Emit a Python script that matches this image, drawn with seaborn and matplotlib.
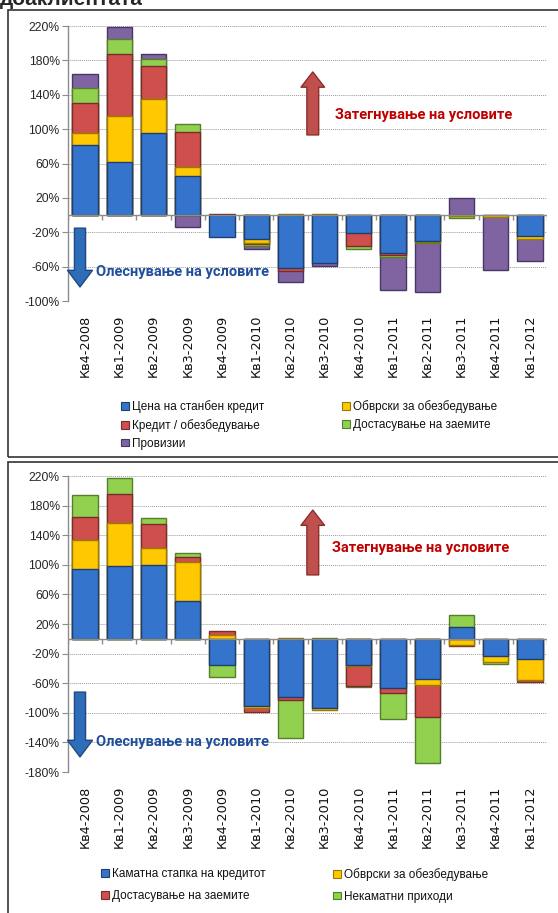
import numpy as np
import pandas as pd
import seaborn as sns
import matplotlib.pyplot as plt
from matplotlib.patches import Patch, Rectangle

# quarters on the x axis (same for both charts)
quarters = ['Кв4-2008', 'Кв1-2009', 'Кв2-2009', 'Кв3-2009', 'Кв4-2009', 'Кв1-2010', 'Кв2-2010',
            'Кв3-2010', 'Кв4-2010', 'Кв1-2011', 'Кв2-2011', 'Кв3-2011', 'Кв4-2011', 'Кв1-2012']

# top chart - housing loans
housing_labels = ['Цена на станбен кредит', 'Обврски за обезбедување', 'Кредит / обезбедување',
                  'Достасување на заемите', 'Провизии']
housing_price = [81, 62, 96, 45, -25, -28, -61, -56, -21, -44, -30, 0, 0, -24]
housing_collateral = [15, 53, 39, 11, 0, -4, 1, 1, 0, 0, -1, -1, -2, -4]
housing_ltv = [34, 72, 38, 41, 1, -2, -4, 0, -15, -2, 0, 0, 0, 0]
housing_maturity = [18, 18, 9, 9, 0, -2, 0, 0, -3, -3, -1, -2, 0, 0]
housing_fees = [16, 14, 5, -14, 0, -3, -13, -3, 0, -38, -58, 20, -62, -25]
housing_ticks = [220, 180, 140, 100, 60, 20, -20, -60, -100]

# bottom chart - consumer loans
consumer_labels = ['Каматна стапка на кредитот', 'Обврски за обезбедување', 'Достасување на заемите',
                   'Некаматни приходи']
consumer_rate = [94, 98, 100, 51, -36, -91, -79, -93, -35, -67, -54, 16, -23, -27]
consumer_collateral = [39, 58, 23, 53, 5, -3, 1, -3, -2, 0, -9, -8, -8, -29]
consumer_maturity = [32, 40, 32, 6, 6, -5, -3, 0, -27, -6, -42, -2, 0, -3]
consumer_nonint = [30, 21, 8, 6, -16, 0, -52, 1, -1, -36, -63, 16, -3, 0]
consumer_ticks = [220, 180, 140, 100, 60, 20, -20, -60, -100, -140, -180]

blue, yellow, red, green, purple = '#3574CD', '#FFC800', '#CF4F4C', '#92D050', '#8064A2'
blue_e, yellow_e, red_e, green_e, purple_e = '#1E3F6E', '#9C7A00', '#7A2C2A', '#557F2A', '#463766'

sns.set_theme(style='white')
plt.rcParams['font.family'] = ['Liberation Sans', 'DejaVu Sans']
narrow = ['Roboto', 'Liberation Sans', 'DejaVu Sans']


def draw_stacked(ax, series, colors, edges):
    pos_cum = np.zeros(len(quarters))
    neg_cum = np.zeros(len(quarters))
    layers = []
    for vals, col, edge in zip(series, colors, edges):
        v = np.array(vals, dtype=float)
        pos_cum = pos_cum + np.clip(v, 0, None)
        neg_cum = neg_cum + np.clip(v, None, 0)
        layers.append((np.where(v > 0, pos_cum, np.nan), np.where(v < 0, neg_cum, np.nan), col, edge))
    # draw from the outermost layer inwards so that the inner ones cover it
    for pos, neg, col, edge in reversed(layers):
        for y in (pos, neg):
            if np.all(np.isnan(y)):
                continue
            df = pd.DataFrame({'q': quarters, 'v': y}).dropna()
            sns.barplot(data=df, x='q', y='v', order=quarters, color=col, saturation=1,
                        width=0.74, errorbar=None, edgecolor=edge, linewidth=1.0, ax=ax)


def style_axes(ax, ticks):
    ax.set_ylim(ticks[-1], ticks[0])
    ax.set_xlim(-0.5, len(quarters) - 0.5)
    ax.set_yticks(ticks)
    ax.set_yticklabels([f'{t}%' for t in ticks], fontsize=8.7)
    for t in ticks:
        if t != 0:
            ax.axhline(t, color='#9A9A9A', lw=0.7, ls=(0, (1, 1)), zorder=0)
    ax.axhline(0, color='#8C8C8C', lw=1.0, zorder=3)
    tick_len = 0.018 * (ticks[0] - ticks[-1])
    ax.vlines(np.arange(len(quarters) + 1) - 0.5, 0, -tick_len, color='#8C8C8C', lw=1.0, zorder=3)
    ax.set_xticks(range(len(quarters)))
    ax.set_xticklabels(quarters, rotation=90, fontsize=9.3, family='DejaVu Sans', color='#111111')
    ax.tick_params(axis='x', length=0, pad=10)
    ax.tick_params(axis='y', length=4, width=0.8, color='#8C8C8C', direction='out', left=True, pad=2)
    for s in ['top', 'right', 'bottom']:
        ax.spines[s].set_visible(False)
    ax.spines['left'].set_color('#8C8C8C')
    ax.spines['left'].set_linewidth(1.0)
    ax.set_xlabel('')
    ax.set_ylabel('')
    ax.set_facecolor('white')


def annotate_directions(ax, red_arrow, red_text, blue_arrow, blue_text):
    ax.annotate('', xy=red_arrow[1], xytext=red_arrow[0], xycoords='axes fraction',
                arrowprops=dict(arrowstyle='simple,head_length=1.1,head_width=1.7,tail_width=0.85',
                                mutation_scale=10, fc='#C0504D', ec='#8C2D2A', lw=1,
                                shrinkA=0, shrinkB=0), zorder=5)
    ax.text(red_text[0], red_text[1], 'Затегнување на условите', transform=ax.transAxes,
            color='#C00000', fontsize=10.5, fontweight='bold', family=narrow, va='center', ha='left')
    ax.annotate('', xy=blue_arrow[1], xytext=blue_arrow[0], xycoords='axes fraction',
                arrowprops=dict(arrowstyle='simple,head_length=1.2,head_width=1.8,tail_width=0.8',
                                mutation_scale=10, fc='#2E6DB8', ec='#1F4A80', lw=1,
                                shrinkA=0, shrinkB=0), zorder=5)
    ax.text(blue_text[0], blue_text[1], 'Олеснување на условите', transform=ax.transAxes,
            color='#1F4E9A', fontsize=10.5, fontweight='bold', family=narrow, va='center', ha='left')


fig = plt.figure(figsize=(5.58, 9.13), dpi=100)
fig.patch.set_facecolor('white')

# panel frames
fig.add_artist(Rectangle((0.0143, 0.4995), 1.0, 0.4895, transform=fig.transFigure,
                         fill=False, ec='#333333', lw=1.2))
fig.add_artist(Rectangle((0.0143, -0.1), 1.0, 0.594, transform=fig.transFigure,
                         fill=False, ec='#333333', lw=1.2))

# heading above the panels (cut by the top edge, as in the source page)
fig.text(0.0, 0.9945, 'доаклиентата', fontsize=15, fontweight='bold', va='baseline', ha='left')

# top chart
ax1 = fig.add_axes([0.1219, 0.6703, 0.8584, 0.3012])
draw_stacked(ax1, [housing_price, housing_collateral, housing_ltv, housing_maturity, housing_fees],
             [blue, yellow, red, green, purple], [blue_e, yellow_e, red_e, green_e, purple_e])
style_axes(ax1, housing_ticks)
annotate_directions(ax1, ((0.511, 0.604), (0.511, 0.833)), (0.557, 0.676),
                    ((0.025, 0.265), (0.025, 0.051)), (0.058, 0.105))

# bottom chart
ax2 = fig.add_axes([0.1219, 0.1544, 0.8584, 0.3242])
draw_stacked(ax2, [consumer_rate, consumer_collateral, consumer_maturity, consumer_nonint],
             [blue, yellow, red, green], [blue_e, yellow_e, red_e, green_e])
style_axes(ax2, consumer_ticks)
annotate_directions(ax2, ((0.511, 0.666), (0.511, 0.885)), (0.551, 0.757),
                    ((0.025, 0.270), (0.025, 0.051)), (0.058, 0.101))


def legend_column(labels, colors, edges, x, y, spacing):
    handles = [Patch(fc=c, ec=e, lw=0.8) for c, e in zip(colors, edges)]
    leg = fig.legend(handles, labels, loc='upper left', bbox_to_anchor=(x, y), frameon=False,
                     fontsize=8.5, handlelength=0.65, handleheight=0.65, handletextpad=0.3,
                     labelspacing=spacing, borderpad=0, borderaxespad=0)
    for t in leg.get_texts():
        t.set_color('#111111')


legend_column([housing_labels[0], housing_labels[2], housing_labels[4]], [blue, red, purple],
              [blue_e, red_e, purple_e], 0.217, 0.5619, 0.5)
legend_column([housing_labels[1], housing_labels[3]], [yellow, green], [yellow_e, green_e],
              0.613, 0.5619, 0.5)
legend_column([consumer_labels[0], consumer_labels[2]], [blue, red], [blue_e, red_e],
              0.181, 0.049, 0.8)
legend_column([consumer_labels[1], consumer_labels[3]], [yellow, green], [yellow_e, green_e],
              0.597, 0.049, 0.8)

fig.savefig('out.png', dpi=100, facecolor='white')
